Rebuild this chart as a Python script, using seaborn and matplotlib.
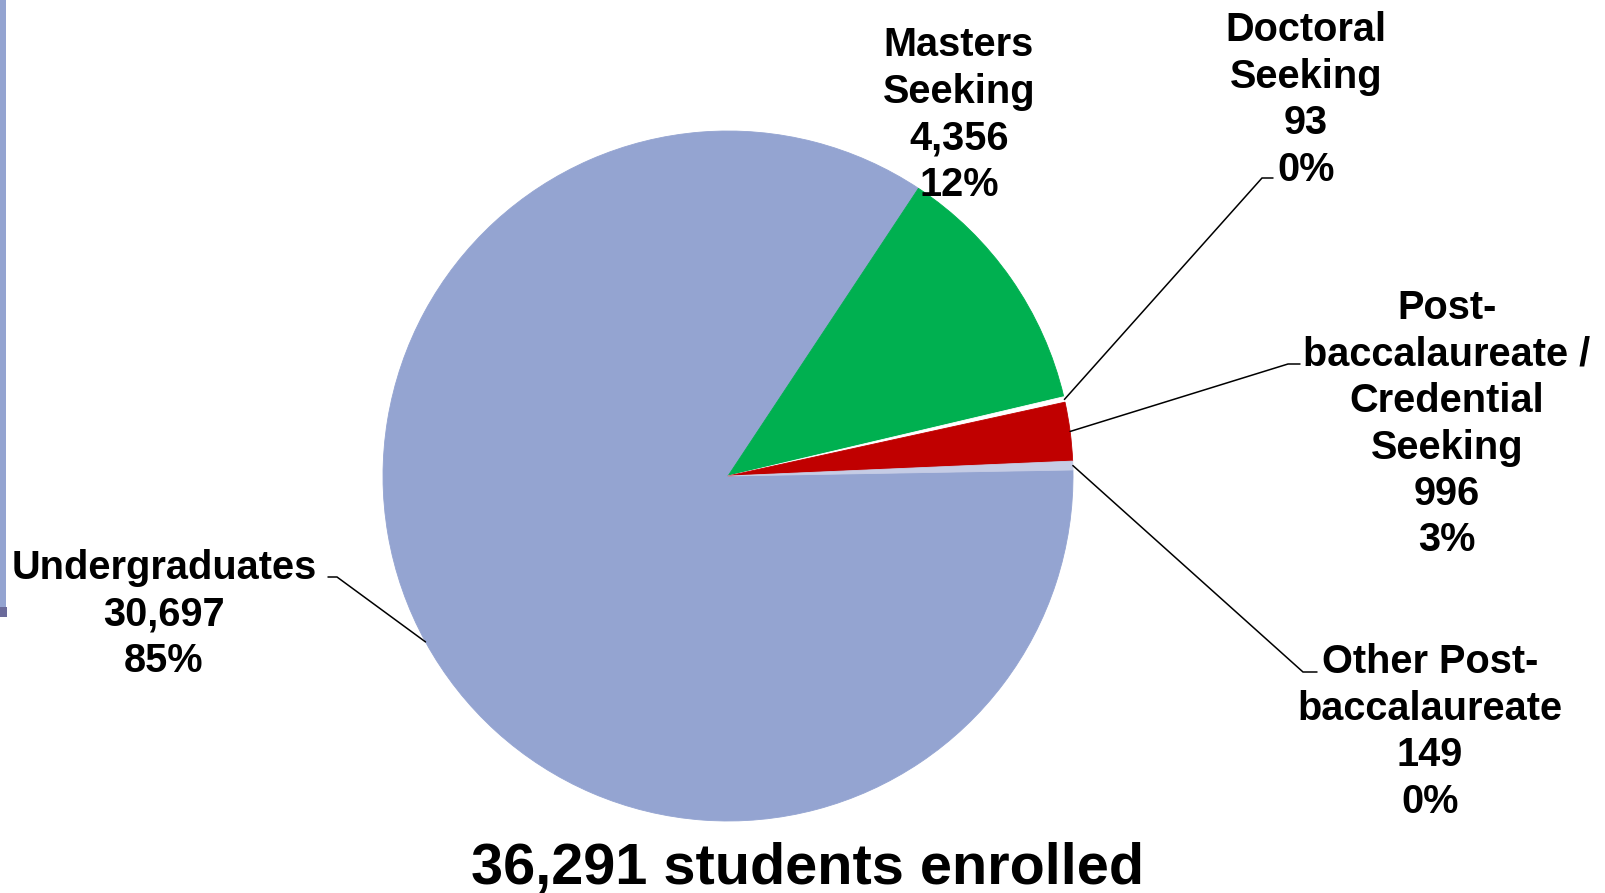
import numpy as np
import matplotlib.pyplot as plt
from matplotlib.patches import Rectangle
import seaborn as sns

# enrolment by level
categories = ["Undergraduates", "Masters\nSeeking", "Doctoral\nSeeking",
              "Post-\nbaccalaureate /\nCredential\nSeeking",
              "Other Post-\nbaccalaureate"]
counts = [30697, 4356, 93, 996, 149]
colors = ["#94A4D1", "#00B050", "#FFFFFF", "#C00000", "#C5CCE5"]
title = "36,291 students enrolled"

sns.set_theme(style="white")
plt.rcParams['font.family'] = ['Liberation Sans', 'DejaVu Sans']

W, H = 1606, 893
CX, CY, R = 728, 476, 345   # pie centre and radius in pixels


def px(x, y):
    # pixel position -> data position (1 data unit = pie radius)
    return (x - CX) / R, (CY - y) / R


fig = plt.figure(figsize=(W / 100, H / 100), dpi=100)
ax = fig.add_axes([0, 0, 1, 1])
wedges, _ = ax.pie(counts, colors=colors, startangle=1.0, counterclock=False,
                   radius=1, center=(0, 0), wedgeprops=dict(linewidth=0.6))
for w, c in zip(wedges, colors):
    w.set_edgecolor(c)
ax.set_aspect('auto')
ax.set_xlim(-CX / R, (W - CX) / R)
ax.set_ylim(-(H - CY) / R, CY / R)
ax.axis('off')

total = sum(counts)
fs = 28.6
em = fs * 100 / 72
# label: (centre x, first baseline y) in px, then leader knee and end in px
label_pos = [(164, 578), (959, 55), (1306, 40), (1447, 318), (1430, 672)]
leaders = [((337, 577), (328, 577)), None, ((1262, 178), (1273, 178)),
           ((1288, 364), (1300, 364)), ((1303, 672), (1317, 672))]

for w, name, n, pos, ld in zip(wedges, categories, counts, label_pos, leaders):
    pct = round(100 * n / total)
    txt = f"{name}\n{n:,}\n{pct}%"
    tx, ty = px(pos[0], pos[1] - 0.72 * em)
    ax.text(tx, ty, txt, ha='center', va='top', fontsize=fs,
            fontweight='bold', linespacing=1.28, color='black')
    if ld is not None:
        mid = np.deg2rad((w.theta1 + w.theta2) / 2)
        ex, ey = np.cos(mid), np.sin(mid)
        kx, ky = px(*ld[0])
        lx, ly = px(*ld[1])
        ax.plot([ex, kx, lx], [ey, ky, ly], color='black', lw=1.1,
                solid_joinstyle='miter')

tx, ty = px(808, 884)
ax.text(tx, ty, title, ha='center', va='baseline', fontsize=41.5,
        fontweight='bold', color='black')

# thin slide bar on the left edge
fig.add_artist(Rectangle((0, 1 - 607 / H), 6 / W, 607 / H,
                         transform=fig.transFigure, color="#94A4D1", lw=0))
fig.add_artist(Rectangle((0, 1 - 617 / H), 7 / W, 10 / H,
                         transform=fig.transFigure, color="#6B6B9B", lw=0))

fig.savefig("out.png", dpi=100)
